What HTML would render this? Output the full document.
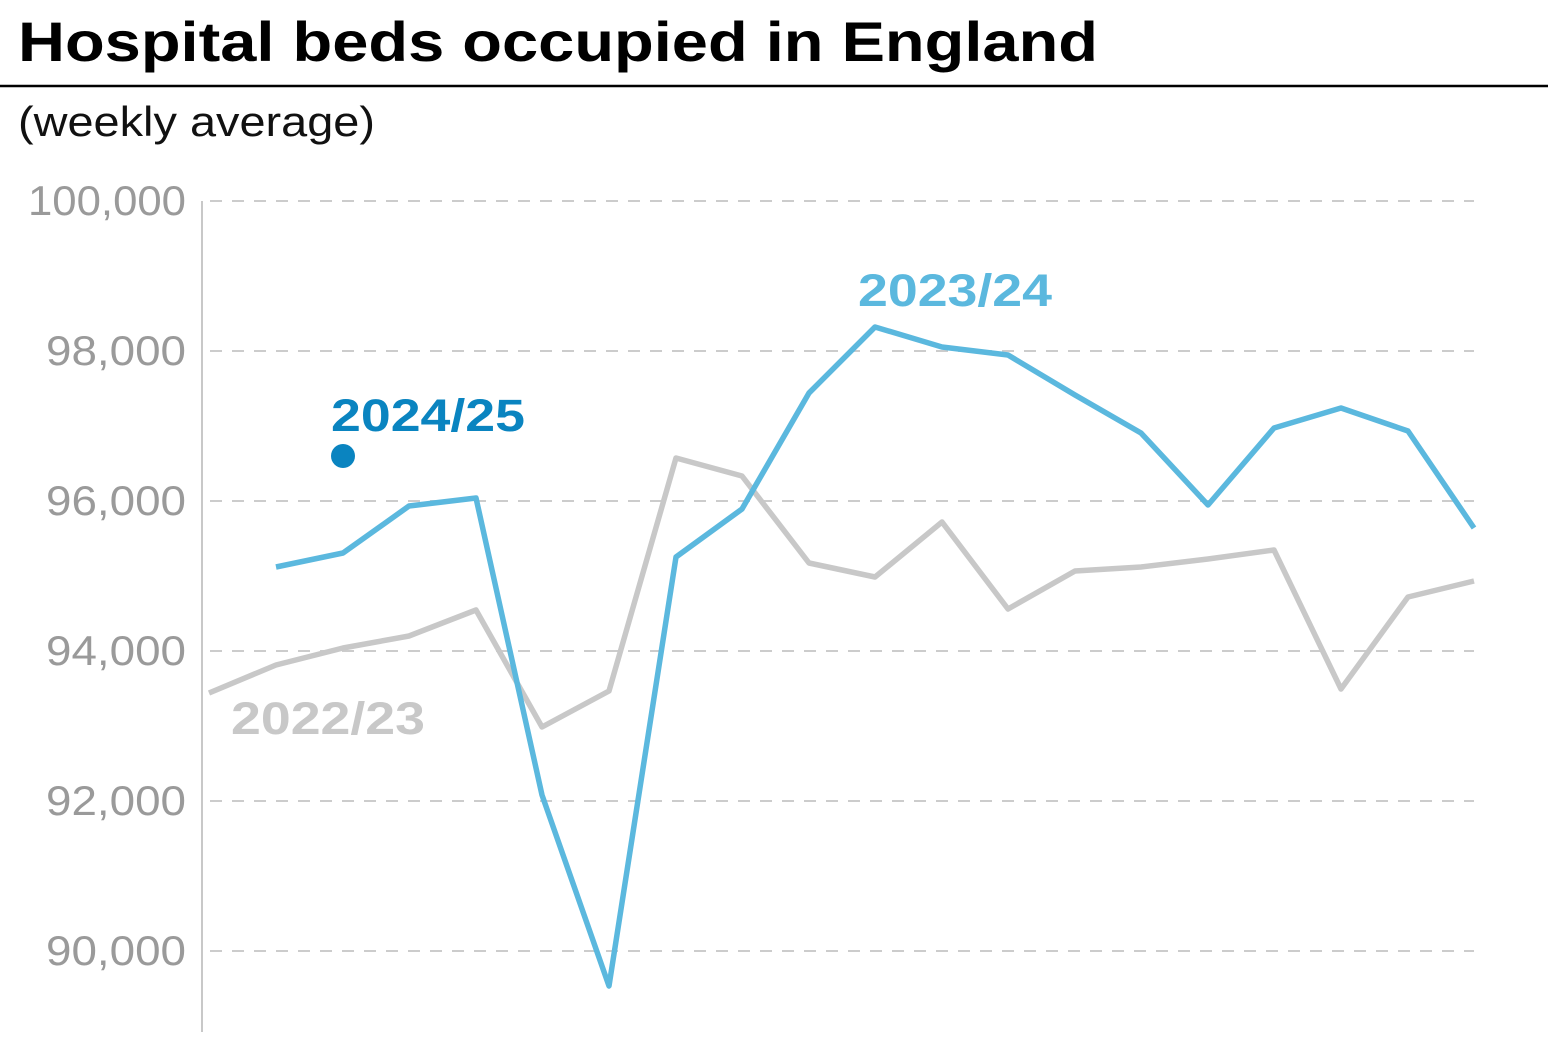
<!DOCTYPE html>
<html><head><meta charset="utf-8"><style>
html,body{margin:0;padding:0;background:#fff;}
body{width:1548px;height:1032px;overflow:hidden;}
</style></head><body>
<svg width="1548" height="1032" xmlns="http://www.w3.org/2000/svg" font-family="Liberation Sans, sans-serif">
<text x="18" y="61" font-size="56" font-weight="bold" fill="#000" textLength="1080" lengthAdjust="spacingAndGlyphs">Hospital beds occupied in England</text>
<line x1="0" y1="86" x2="1548" y2="86" stroke="#000" stroke-width="2.5"/>
<text x="18" y="136" font-size="42" fill="#111" textLength="357" lengthAdjust="spacingAndGlyphs">(weekly average)</text>
<g stroke="#ccc" stroke-width="2" stroke-dasharray="12,10">
<line x1="210" y1="201" x2="1474" y2="201"/>
<line x1="210" y1="351" x2="1474" y2="351"/>
<line x1="210" y1="501" x2="1474" y2="501"/>
<line x1="210" y1="651" x2="1474" y2="651"/>
<line x1="210" y1="801" x2="1474" y2="801"/>
<line x1="210" y1="951" x2="1474" y2="951"/>
</g>
<line x1="202" y1="201" x2="202" y2="1032" stroke="#c8c8c8" stroke-width="2"/>
<g font-size="42" fill="#9a9a9a" text-anchor="end">
<text x="186" y="215" textLength="158" lengthAdjust="spacingAndGlyphs">100,000</text>
<text x="186" y="365" textLength="140" lengthAdjust="spacingAndGlyphs">98,000</text>
<text x="186" y="515" textLength="140" lengthAdjust="spacingAndGlyphs">96,000</text>
<text x="186" y="665" textLength="140" lengthAdjust="spacingAndGlyphs">94,000</text>
<text x="186" y="815" textLength="140" lengthAdjust="spacingAndGlyphs">92,000</text>
<text x="186" y="965" textLength="140" lengthAdjust="spacingAndGlyphs">90,000</text>
</g>
<polyline fill="none" stroke="#c8c8c8" stroke-width="5.5" stroke-linejoin="round" points="209,693 276,665 343,648 409,636 476,610 542,727 609,691 676,458 742,476 809,563 875,577 942,522 1008,609 1075,571 1141,567 1208,559 1274,550 1341,689 1408,597 1474,581"/>
<polyline fill="none" stroke="#5bb8de" stroke-width="5.5" stroke-linejoin="round" points="276,567 343,553 409,506 476,498 542,795 609,986 676,557 742,509 809,393 875,327 942,347 1008,355 1075,395 1141,433 1208,505 1274,428 1341,408 1408,431 1474,528"/>
<circle cx="343" cy="456" r="12" fill="#0a84c0"/>
<text x="331" y="431" font-size="45" font-weight="bold" fill="#0a84c0" textLength="194" lengthAdjust="spacingAndGlyphs">2024/25</text>
<text x="858" y="306" font-size="45" font-weight="bold" fill="#5bb8de" textLength="194" lengthAdjust="spacingAndGlyphs">2023/24</text>
<text x="231" y="734" font-size="45" font-weight="bold" fill="#c8c8c8" textLength="194" lengthAdjust="spacingAndGlyphs">2022/23</text>
</svg>
</body></html>
